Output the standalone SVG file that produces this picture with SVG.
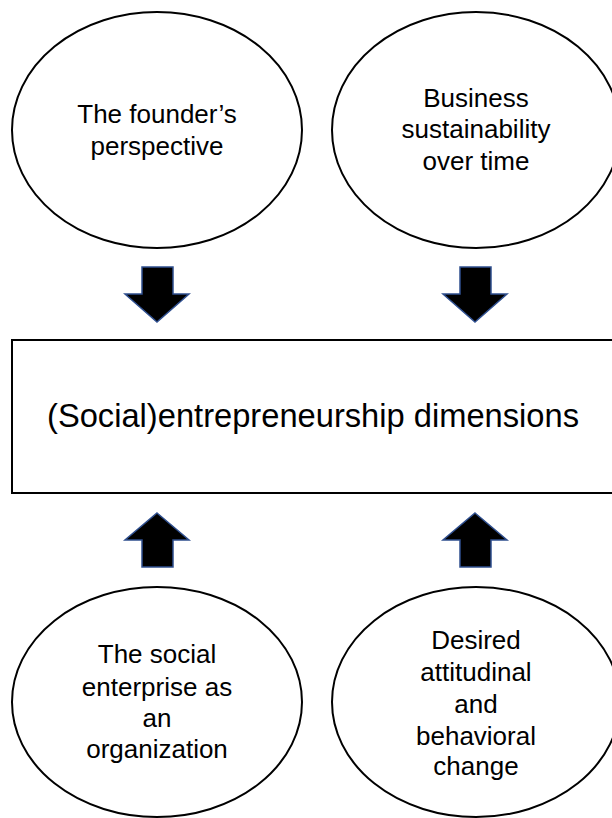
<svg xmlns="http://www.w3.org/2000/svg" width="612" height="818" viewBox="0 0 612 818">
<style>
.node{fill:#fff;stroke:#000;stroke-width:2}
.t{font-family:"Liberation Sans",Arial,sans-serif;font-size:26px;fill:#000;text-anchor:middle}
.big{font-size:33px}
.arr{fill:#000;stroke:#2F4F8F;stroke-width:1.5;stroke-linejoin:miter}
</style>
<rect width="612" height="818" fill="#fff"/>
<g id="founder">
<ellipse class="node" cx="157" cy="130" rx="145" ry="118"/>
<text class="t" x="157" y="123">The founder’s</text>
<text class="t" x="157" y="155">perspective</text>
</g>
<g id="sustainability">
<ellipse class="node" cx="476" cy="130" rx="144" ry="118"/>
<text class="t" x="476" y="107">Business</text>
<text class="t" x="476" y="138">sustainability</text>
<text class="t" x="476" y="170">over time</text>
</g>
<g id="dimensions">
<rect class="node" x="12" y="340" width="602" height="153"/>
<text class="t big" x="313" y="427" textLength="532" lengthAdjust="spacingAndGlyphs">(Social)entrepreneurship dimensions</text>
</g>
<g id="organization">
<ellipse class="node" cx="157" cy="702" rx="145" ry="115"/>
<text class="t" x="157" y="663">The social</text>
<text class="t" x="157" y="696">enterprise as</text>
<text class="t" x="157" y="727">an</text>
<text class="t" x="157" y="758">organization</text>
</g>
<g id="change">
<ellipse class="node" cx="476" cy="702" rx="144" ry="115"/>
<text class="t" x="476" y="649">Desired</text>
<text class="t" x="476" y="681">attitudinal</text>
<text class="t" x="476" y="713">and</text>
<text class="t" x="476" y="745">behavioral</text>
<text class="t" x="476" y="775">change</text>
</g>
<g id="connectors">
<polygon class="arr" points="142,267 173,267 173,294 189,294 157,322 125,294 142,294"/>
<polygon class="arr" points="460,267 491,267 491,294 507,294 475,322 443,294 460,294"/>
<polygon class="arr" points="157,513 189,540 173,540 173,567 142,567 142,540 125,540"/>
<polygon class="arr" points="475,513 507,540 491,540 491,567 460,567 460,540 443,540"/>
</g>
</svg>
